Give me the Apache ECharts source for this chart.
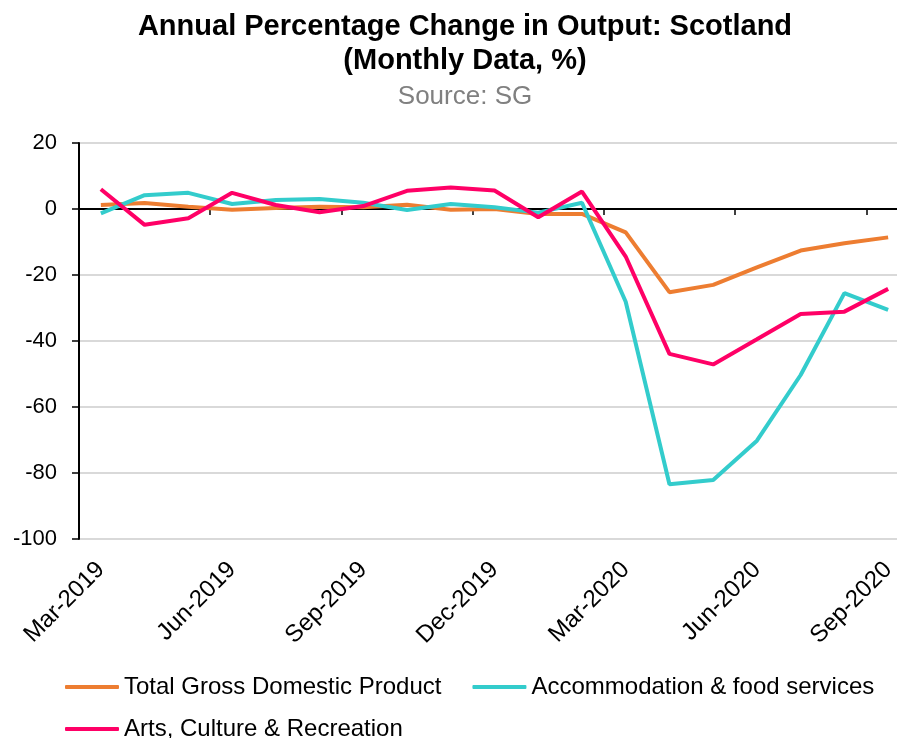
<!DOCTYPE html>
<html>
<head>
<meta charset="utf-8">
<script src="https://cdn.jsdelivr.net/npm/echarts@6/dist/echarts.min.js"></script>
<style>
html,body{margin:0;padding:0;background:#fff;overflow:hidden;}
#chart{width:910px;height:738px;}
</style>
</head>
<body>
<div id="chart"></div>
<script>
var categories = ['Mar-2019','Apr-2019','May-2019','Jun-2019','Jul-2019','Aug-2019','Sep-2019','Oct-2019','Nov-2019','Dec-2019','Jan-2020','Feb-2020','Mar-2020','Apr-2020','May-2020','Jun-2020','Jul-2020','Aug-2020','Sep-2020'];
var gdp = [1.2, 1.8, 0.7, -0.2, 0.3, 0.7, 0.5, 1.3, -0.2, 0.0, -1.5, -1.5, -7.1, -25.2, -23.0, -17.7, -12.6, -10.4, -8.6];
var accommodation = [-1.3, 4.2, 4.9, 1.5, 2.7, 3.0, 1.9, -0.3, 1.5, 0.5, -1.1, 1.9, -28.1, -83.4, -82.1, -70.2, -50.3, -25.5, -30.6];
var arts = [6.0, -4.8, -2.8, 4.9, 1.2, -1.0, 0.9, 5.5, 6.5, 5.6, -2.5, 5.3, -14.4, -43.9, -47.1, -39.5, -31.8, -31.1, -24.2];
var seriesNames = ['Total Gross Domestic Product', 'Accommodation & food services', 'Arts, Culture & Recreation'];
var titleLines = ['Annual Percentage Change in Output: Scotland', '(Monthly Data, %)'];
var subtitle = 'Source: SG';
var colors = ['#ED7D31', '#33CCCC', '#FF0066'];

var FONT = '"Liberation Sans", Arial, sans-serif';
var chart = echarts.init(document.getElementById('chart'));
chart.setOption({
  animation: false,
  backgroundColor: '#ffffff',
  textStyle: { fontFamily: FONT },
  graphic: [
    { type: 'text', x: 465, y: 27, style: { text: titleLines[0], align: 'center', verticalAlign: 'middle',
      font: 'bold 29px ' + FONT, fill: '#000' } },
    { type: 'text', x: 465, y: 61, style: { text: titleLines[1], align: 'center', verticalAlign: 'middle',
      font: 'bold 29px ' + FONT, fill: '#000' } },
    { type: 'text', x: 465, y: 97, style: { text: subtitle, align: 'center', verticalAlign: 'middle',
      font: '26px ' + FONT, fill: '#808080' } }
  ],
  legend: [
    { data: [seriesNames[0], seriesNames[1]], left: 65, top: 675, padding: 0, orient: 'horizontal',
      icon: 'roundRect', itemWidth: 54, itemHeight: 4, itemGap: 31,
      textStyle: { fontFamily: FONT, fontSize: 24, color: '#000' } },
    { data: [seriesNames[2]], left: 65, top: 717, padding: 0, orient: 'horizontal',
      icon: 'roundRect', itemWidth: 54, itemHeight: 4,
      textStyle: { fontFamily: FONT, fontSize: 24, color: '#000' } }
  ],
  grid: { left: 79, top: 143, width: 831, height: 396, containLabel: false },
  xAxis: [
    { type: 'category', data: categories, boundaryGap: true, position: 'bottom',
      axisLine: { show: true, onZero: true, lineStyle: { color: '#000', width: 2 } },
      axisTick: { show: true, interval: 2, length: 6, inside: false, lineStyle: { color: '#000', width: 1.5 } },
      axisLabel: { show: false },
      splitLine: { show: false } },
    { type: 'category', data: categories, boundaryGap: true, position: 'bottom',
      axisLine: { show: false, onZero: false },
      axisTick: { show: false },
      axisLabel: { show: true, interval: 2, rotate: 45, margin: 27,
        fontFamily: FONT, fontSize: 24, color: '#000' },
      splitLine: { show: false } }
  ],
  yAxis: {
    type: 'value', min: -100, max: 20, interval: 20,
    axisLine: { show: true, onZero: false, lineStyle: { color: '#000', width: 2 } },
    axisTick: { show: true, length: 7, lineStyle: { color: '#000', width: 1.5 } },
    axisLabel: { fontFamily: FONT, fontSize: 22, color: '#000', margin: 22 },
    splitLine: { show: true, lineStyle: { color: '#d9d9d9', width: 2 } }
  },
  series: [
    { name: seriesNames[0], type: 'line', data: gdp, xAxisIndex: 0, symbol: 'none',
      lineStyle: { color: colors[0], width: 4 }, itemStyle: { color: colors[0] } },
    { name: seriesNames[1], type: 'line', data: accommodation, xAxisIndex: 0, symbol: 'none',
      lineStyle: { color: colors[1], width: 4 }, itemStyle: { color: colors[1] } },
    { name: seriesNames[2], type: 'line', data: arts, xAxisIndex: 0, symbol: 'none',
      lineStyle: { color: colors[2], width: 4 }, itemStyle: { color: colors[2] } }
  ]
});
</script>
</body>
</html>
